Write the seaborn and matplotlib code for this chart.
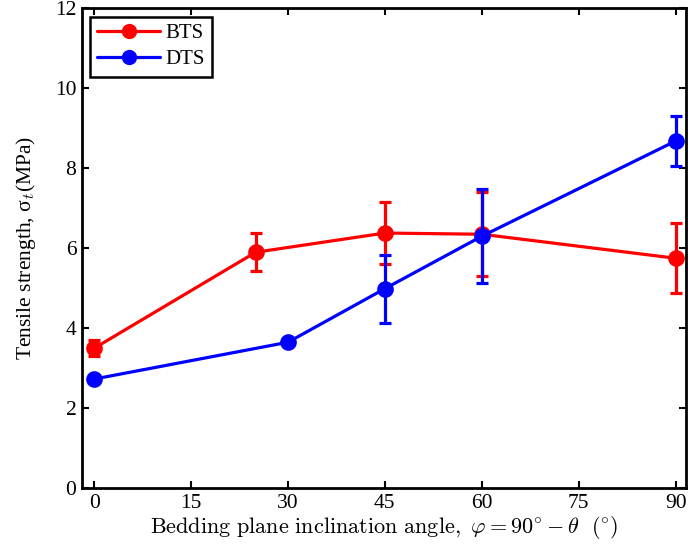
import numpy as np
import pandas as pd
import matplotlib
matplotlib.use("Agg")
import matplotlib.pyplot as plt
import seaborn as sns

# dados
bts_angulo = [0, 25, 45, 60, 90]
bts_media = [3.50, 5.90, 6.38, 6.35, 5.75]
bts_erro = [0.20, 0.48, 0.77, 1.05, 0.88]

dts_angulo = [0, 30, 45, 60, 90]
dts_media = [2.73, 3.65, 4.99, 6.30, 8.68]
dts_erro = [0.0, 0.0, 0.85, 1.17, 0.63]

sns.set_style("ticks")
plt.rcParams['font.family'] = ['Liberation Serif', 'DejaVu Serif']
plt.rcParams['mathtext.fontset'] = 'cm'
plt.rcParams['axes.edgecolor'] = 'black'
plt.rcParams['xtick.color'] = 'black'
plt.rcParams['ytick.color'] = 'black'
plt.rcParams['text.color'] = 'black'
plt.rcParams['axes.labelcolor'] = 'black'

df = pd.concat([
    pd.DataFrame({'angulo': bts_angulo, 'sigma': bts_media, 'serie': 'BTS'}),
    pd.DataFrame({'angulo': dts_angulo, 'sigma': dts_media, 'serie': 'DTS'}),
])

fig = plt.figure(figsize=(6.88, 5.48), dpi=100)
ax = fig.add_axes([0.119, 0.109, 0.878, 0.876])

sns.lineplot(data=df, x='angulo', y='sigma', hue='serie', palette={'BTS': 'red', 'DTS': 'blue'},
             marker='o', markersize=12, markeredgewidth=0, linewidth=2.3, ax=ax)

ax.errorbar(bts_angulo, bts_media, yerr=bts_erro, fmt='none', ecolor='red',
            elinewidth=2.3, capsize=4.5, capthick=2.3)
mask = [e > 0 for e in dts_erro]
ax.errorbar(np.array(dts_angulo)[mask], np.array(dts_media)[mask], yerr=np.array(dts_erro)[mask],
            fmt='none', ecolor='blue', elinewidth=2.3, capsize=4.5, capthick=2.3)

ax.set_xlim(-1.9, 91.6)
ax.set_ylim(0, 12)
ax.set_xticks(range(0, 91, 15))
ax.set_yticks(range(0, 13, 2))
ax.tick_params(direction='in', top=True, right=True, width=1.5, length=5, labelsize=15.5, pad=4)
for s in ax.spines.values():
    s.set_linewidth(2)
    s.set_visible(True)

ax.set_xlabel(r'$\mathrm{Bedding\ plane\ inclination\ angle,}\ \varphi = 90^{\circ} - \theta\ \ (^{\circ})$',
              fontsize=16, labelpad=1)
ax.set_ylabel(r'Tensile strength, $\mathregular{\sigma}_{\it t}$(MPa)', fontsize=15.5, labelpad=12)

leg = ax.legend(loc='upper left', fontsize=15, fancybox=False, framealpha=1,
                edgecolor='black', handlelength=3.0, handletextpad=0.25, borderpad=0.35,
                labelspacing=0.3, borderaxespad=0.4)
leg.set_title(None)
leg.get_frame().set_linewidth(1.8)
for h in leg.legend_handles:
    h.set_markersize(11)

fig.savefig('out.png', dpi=100)
